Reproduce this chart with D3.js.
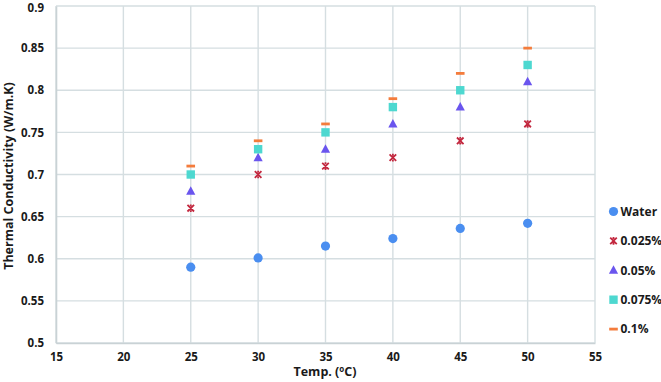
<!DOCTYPE html>
<html>
<head>
<meta charset="utf-8">
<script src="https://cdn.jsdelivr.net/npm/d3@7"></script>
<style>
  html, body { margin: 0; padding: 0; background: #fff; }
  svg { display: block; }
  text { font-family: "Open Sans", "DejaVu Sans", sans-serif; font-weight: 700; fill: #1a1a1a; }
</style>
</head>
<body>
<svg id="chart" width="661" height="382"></svg>
<script>
const temps = [25, 30, 35, 40, 45, 50];
const water = [0.590, 0.601, 0.615, 0.624, 0.636, 0.642];
const conc025 = [0.66, 0.70, 0.71, 0.72, 0.74, 0.76];
const conc05 = [0.68, 0.72, 0.73, 0.76, 0.78, 0.81];
const conc075 = [0.70, 0.73, 0.75, 0.78, 0.80, 0.83];
const conc1 = [0.71, 0.74, 0.76, 0.79, 0.82, 0.85];
const seriesNames = ["Water", "0.025%", "0.05%", "0.075%", "0.1%"];
const xTicks = [15, 20, 25, 30, 35, 40, 45, 50, 55];
const yTicks = [0.5, 0.55, 0.6, 0.65, 0.7, 0.75, 0.8, 0.85, 0.9];

const series = [
  { name: seriesNames[0], values: water, shape: "circle", color: "#4a8ef0" },
  { name: seriesNames[1], values: conc025, shape: "star", color: "#c3283f" },
  { name: seriesNames[2], values: conc05, shape: "triangle", color: "#6a55ee" },
  { name: seriesNames[3], values: conc075, shape: "square", color: "#4dd8d0" },
  { name: seriesNames[4], values: conc1, shape: "dash", color: "#f47c3c" }
];

const svg = d3.select("#chart");
const margin = { left: 56, right: 66, top: 6, bottom: 39 };
const W = 661, H = 382;
const x = d3.scaleLinear().domain([15, 55]).range([margin.left, W - margin.right]);
const y = d3.scaleLinear().domain([0.5, 0.9]).range([H - margin.bottom, margin.top]);

const gridColor = "#d5dee1";

// Grid lines
svg.append("g").selectAll("line").data(xTicks).join("line")
  .attr("x1", d => x(d)).attr("x2", d => x(d))
  .attr("y1", y(0.9)).attr("y2", y(0.5))
  .attr("stroke", gridColor).attr("stroke-width", 1.4);
svg.append("g").selectAll("line").data(yTicks).join("line")
  .attr("x1", x(15)).attr("x2", x(55))
  .attr("y1", d => y(d)).attr("y2", d => y(d))
  .attr("stroke", gridColor).attr("stroke-width", 1.4);

// Axes
const xAxis = svg.append("g").attr("transform", `translate(0,${y(0.5)})`)
  .call(d3.axisBottom(x).tickValues(xTicks).tickSize(0).tickPadding(10).tickFormat(d3.format("d")));
xAxis.select(".domain").attr("stroke", "#c9d2d5").attr("stroke-width", 1.6);
xAxis.selectAll("text").style("font-size", "11.5px").attr("fill", "#1a1a1a");

const yAxis = svg.append("g").attr("transform", `translate(${x(15)},0)`)
  .call(d3.axisLeft(y).tickValues(yTicks).tickSize(0).tickPadding(12).tickFormat(d => String(+d.toFixed(2))));
yAxis.select(".domain").attr("stroke", "#c9d2d5").attr("stroke-width", 1.6);
yAxis.selectAll("text").style("font-size", "11.5px").attr("fill", "#1a1a1a");
yAxis.selectAll(".tick").filter(d => d === 0.9).select("text").attr("dy", "0.5em");

// Axis titles
const xt = svg.append("text").attr("x", 325).attr("y", 376).attr("text-anchor", "middle")
  .style("font-size", "12.5px");
xt.append("tspan").text("Temp. (");
xt.append("tspan").text("o").attr("dy", -4).style("font-size", "8px");
xt.append("tspan").text("C)").attr("dy", 4);

svg.append("text").attr("transform", "translate(13,176) rotate(-90)")
  .attr("text-anchor", "middle").style("font-size", "12.5px")
  .text("Thermal Conductivity (W/m.K)");

// Marker drawing
function drawMarker(g, shape, color) {
  if (shape === "circle") {
    g.append("circle").attr("r", 4.6).attr("fill", color);
  } else if (shape === "square") {
    g.append("rect").attr("x", -4.2).attr("y", -4.2).attr("width", 8.4).attr("height", 8.4).attr("fill", color);
  } else if (shape === "triangle") {
    g.append("path").attr("d", "M0,-5 L4.6,3.5 L-4.6,3.5 Z").attr("fill", color);
  } else if (shape === "dash") {
    g.append("rect").attr("x", -4.3).attr("y", -1.4).attr("width", 8.6).attr("height", 2.8).attr("fill", color);
  } else if (shape === "star") {
    g.append("path").attr("d", "M-3.3,-3.3 L3.3,3.3 M-3.3,3.3 L3.3,-3.3 M0,-3.8 L0,-2 M0,2 L0,3.8")
      .attr("stroke", color).attr("stroke-width", 1.8).attr("fill", "none");
  }
}

// Points
series.forEach(s => {
  const g = svg.append("g");
  s.values.forEach((v, i) => {
    const m = g.append("g").attr("transform", `translate(${x(temps[i])},${y(v)})`);
    drawMarker(m, s.shape, s.color);
  });
});

// Legend
const legend = svg.append("g");
series.forEach((s, i) => {
  const ly = 211.5 + i * 29.4;
  const m = legend.append("g").attr("transform", `translate(613.5,${ly})`);
  drawMarker(m, s.shape, s.color);
  legend.append("text").attr("x", 620.5).attr("y", ly).attr("dy", "0.36em")
    .style("font-size", "12px").text(s.name);
});
</script>
</body>
</html>
